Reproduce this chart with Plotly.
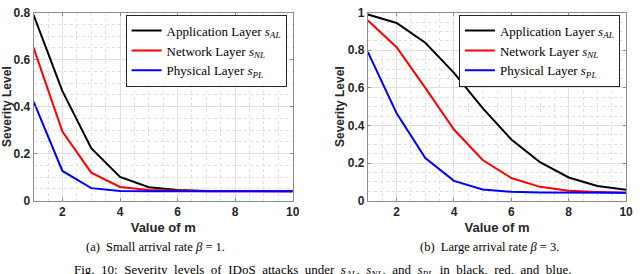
import plotly.graph_objects as go

# ---- data ----
m_values = [1, 2, 3, 4, 5, 6, 7, 8, 9, 10]

# (a) small arrival rate beta = 1
a_app = [0.79, 0.466, 0.223, 0.101, 0.057, 0.045, 0.041, 0.040, 0.040, 0.040]
a_net = [0.650, 0.294, 0.119, 0.058, 0.045, 0.041, 0.040, 0.040, 0.040, 0.040]
a_phy = [0.421, 0.126, 0.053, 0.041, 0.040, 0.040, 0.040, 0.040, 0.040, 0.040]

# (b) large arrival rate beta = 3
b_app = [0.99, 0.945, 0.84, 0.68, 0.492, 0.325, 0.204, 0.123, 0.078, 0.057]
b_net = [0.958, 0.816, 0.60, 0.378, 0.216, 0.120, 0.073, 0.052, 0.046, 0.042]
b_phy = [0.79, 0.465, 0.226, 0.105, 0.059, 0.047, 0.043, 0.042, 0.041, 0.041]

series_names = ["Application Layer <i>s</i><sub><i>AL</i></sub>",
                "Network Layer <i>s</i><sub><i>NL</i></sub>",
                "Physical Layer <i>s</i><sub><i>PL</i></sub>"]
series_colors = ["#000000", "#ff0000", "#0000ff"]

x_ticks = [2, 4, 6, 8, 10]
y_ticks_a = [0, 0.2, 0.4, 0.6, 0.8]
y_ticks_b = [0, 0.2, 0.4, 0.6, 0.8, 1]
y_tick_text_a = ["0", "0.2", "0.4", "0.6", "0.8"]
y_tick_text_b = ["0", "0.2", "0.4", "0.6", "0.8", "1"]

caption_a = "(a)\u00a0\u00a0Small arrival rate <i>β</i> = 1."
caption_b = "(b)\u00a0\u00a0Large arrival rate <i>β</i> = 3."
fig_caption_words = ["Fig.", "10:", "Severity", "levels", "of", "IDoS", "attacks", "under",
                     "<i>s</i><sub><i>AL</i></sub>,", "<i>s</i><sub><i>NL</i></sub>,", "and",
                     "<i>s</i><sub><i>PL</i></sub>", "in", "black,", "red,", "and", "blue."]
fig_caption = " \u00a0".join(fig_caption_words)

W, H = 640, 274
SANS = "Liberation Sans"
SERIF = "Liberation Serif"

fig = go.Figure()

for vals, name, col in zip([a_app, a_net, a_phy], series_names, series_colors):
    fig.add_trace(go.Scatter(x=m_values, y=vals, mode="lines", name=name,
                             line=dict(color=col, width=2),
                             xaxis="x", yaxis="y", legend="legend"))
for vals, name, col in zip([b_app, b_net, b_phy], series_names, series_colors):
    fig.add_trace(go.Scatter(x=m_values, y=vals, mode="lines", name=name,
                             line=dict(color=col, width=2),
                             xaxis="x2", yaxis="y2", legend="legend2"))

def px_x(p):
    return p / W

def px_y(p):
    return 1 - p / H

axis_color = "#8c8c8c"
grid_color = "#e0e0e0"

def xaxis_cfg(x0, x1, anchor):
    return dict(domain=[px_x(x0), px_x(x1)], anchor=anchor, range=[1, 10],
                tickvals=x_ticks, ticktext=[str(t) for t in x_ticks],
                showline=True, linecolor=axis_color, linewidth=1, mirror="ticks",
                ticks="inside", ticklen=3, tickcolor=axis_color,
                showgrid=True, gridcolor=grid_color, gridwidth=1,
                minor=dict(dtick=0.5, tick0=1, showgrid=True, gridcolor=grid_color,
                           griddash="dot", gridwidth=1),
                zeroline=False, ticklabeloverflow="allow",
                tickfont=dict(family=SANS, size=12, color="#262626", weight="bold"),
                title=dict(text="<b>Value of m</b>", standoff=4,
                           font=dict(family=SANS, size=13, color="#262626")))

def yaxis_cfg(y0, y1, anchor, rng, tv, tt):
    return dict(domain=[px_y(y1), px_y(y0)], anchor=anchor, range=rng,
                tickvals=tv, ticktext=tt,
                showline=True, linecolor=axis_color, linewidth=1, mirror="ticks",
                ticks="inside", ticklen=3, tickcolor=axis_color,
                showgrid=True, gridcolor=grid_color, gridwidth=1,
                minor=dict(dtick=0.05, tick0=0, showgrid=True, gridcolor=grid_color,
                           griddash="dot", gridwidth=1),
                zeroline=False, ticklabeloverflow="allow",
                tickfont=dict(family=SANS, size=12, color="#262626", weight="bold"),
                title=dict(text="<b>Severity Level</b>", standoff=0,
                           font=dict(family=SANS, size=12, color="#262626")))

legend_common = dict(bgcolor="white", bordercolor="#262626", borderwidth=1,
                     font=dict(family=SERIF, size=13, color="#000000"),
                     xanchor="left", yanchor="top", tracegroupgap=0,
                     itemwidth=30)

fig.update_layout(
    width=W, height=H,
    margin=dict(l=0, r=0, t=0, b=0),
    paper_bgcolor="white", plot_bgcolor="white",
    xaxis=xaxis_cfg(34, 296, "y"),
    yaxis=yaxis_cfg(6, 204, "x", [0, 0.8], y_ticks_a, y_tick_text_a),
    xaxis2=xaxis_cfg(372, 633, "y2"),
    yaxis2=yaxis_cfg(6, 204, "x2", [0, 1], y_ticks_b, y_tick_text_b),
    legend=dict(x=px_x(127), y=px_y(8), **legend_common),
    legend2=dict(x=px_x(464), y=px_y(8), **legend_common),
    showlegend=True,
)

fig.add_annotation(text=caption_a, x=px_x(157), y=px_y(253), xref="paper", yref="paper",
                   showarrow=False, xanchor="center", yanchor="middle",
                   font=dict(family=SERIF, size=12.5, color="#000000"))
fig.add_annotation(text=caption_b, x=px_x(495), y=px_y(253), xref="paper", yref="paper",
                   showarrow=False, xanchor="center", yanchor="middle",
                   font=dict(family=SERIF, size=12.5, color="#000000"))
fig.add_annotation(text=fig_caption, x=px_x(326), y=px_y(267), xref="paper", yref="paper",
                   showarrow=False, xanchor="center", yanchor="top",
                   font=dict(family=SERIF, size=13, color="#000000"))

fig.write_html("out.html", config={"displayModeBar": False},
               post_script="document.body.style.margin='0';document.body.style.overflow='hidden';")
